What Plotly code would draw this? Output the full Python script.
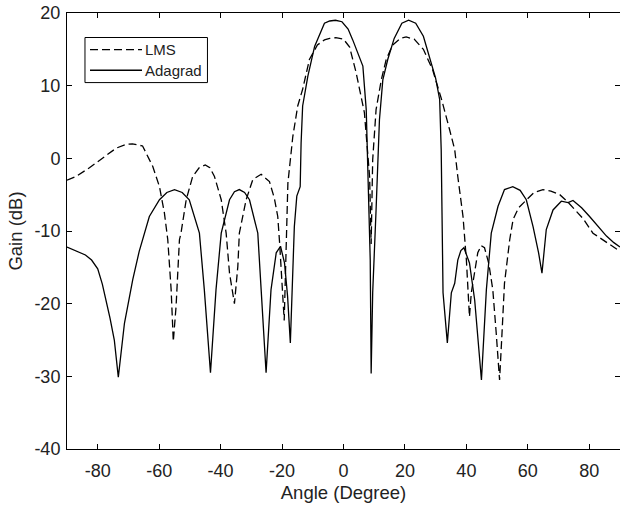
import plotly.graph_objs as go

# --- data (angle in degrees, gain in dB) ---
lms_angle = [-90, -87.1, -82.7, -78.4, -74, -70.5, -68.7, -65.4, -62.1, -59.9, -58.3, -57.2,
             -56.1, -55.4, -54.5, -53.4, -52.9, -51.2, -49.1, -47, -45, -43.5, -42, -39.8,
             -38.2, -37.1, -35.5, -34.4, -33.9, -31.7, -29.5, -26.8, -24.1, -22.5, -21.4,
             -20.8, -20.1, -19.3, -18.1, -16.5, -14.9, -13.3, -11.1, -8.5, -6.2, -4.5,
             -2.5, 0, 2, 4.1, 6.8, 8.5, 9.0, 9.5, 10.6, 12.3, 13.9, 16, 18.5, 20.4, 23,
             26, 29, 32, 34.5, 36.2, 37.2, 38.9, 40, 41, 41.6, 42.5, 43.7, 44.8, 45.9,
             47.3, 48.6, 49.7, 50.8, 51.6, 52.4, 54.1, 55.2, 57, 59.5, 62, 64.9, 67.5,
             70.4, 73, 75.8, 78, 81.2, 83.4, 86.5, 90]
lms_gain = [-3.0, -2.5, -1.3, 0.0, 1.4, 1.95, 2.0, 1.7, -1.1, -3.9, -7.5, -11.2,
            -18.1, -25.2, -20.4, -11.2, -10.3, -5.7, -2.5, -1.3, -0.9, -1.3, -2.5, -5.7,
            -10.3, -15.8, -20.0, -14.9, -10.3, -5.7, -2.9, -2.2, -3.2, -5.5, -8.0,
            -11.6, -17.0, -22.3, -3.4, 3.0, 7.2, 9.5, 13.6, 15.6, 16.3, 16.5,
            16.6, 16.4, 15.3, 11.8, 6.3, -2.5, -11.8, -0.2, 6.7, 10.8, 13.6, 15.6, 16.5, 16.7, 16.4,
            15.0, 12.2, 8.0, 4.0, 1.2, -2.5, -8.0, -14.0, -21.8, -18.5, -16.2, -13.0, -12.0, -12.3,
            -14.5, -18.1, -24.0, -30.5, -24.0, -17.2, -11.2, -8.4, -6.8, -5.7, -4.7, -4.3, -4.5,
            -5.0, -6.0, -7.3, -8.3, -10.3, -10.9, -11.8, -12.8]

ada_angle = [-90, -88, -86, -84, -82, -80, -78.5, -77.3, -76, -74.6, -73.3, -71.3, -68.6, -66.5,
             -63.2, -59.9, -57.5, -55, -52.5, -50.2, -46.9, -45.3, -43.3, -41.5, -39.8, -37.1,
             -35.5, -33.9, -32.2, -30.6, -27.9, -26.8, -25.2, -23.6, -21.9, -20.5, -19.2,
             -18.2, -17.3, -16, -15.2, -14.1, -13.8, -13.3, -11.6, -9.4, -6.2, -4.5, -2.6,
             -0.5, 1.5, 3.0, 6.3, 7.4, 7.9, 8.7, 9.0, 9.5, 10.6, 11.7, 12.8, 14.4, 16.5,
             19, 21.2, 23.5, 26, 28, 30, 31.3, 31.8, 32.4, 33.8, 35.1, 36.2, 37.2, 38.2,
             39.2, 41, 42.7, 44.9, 46.5, 48.1, 50.3, 52.4, 55.1, 57.5, 59.5, 61.7, 63.5,
             64.6, 66, 68.2, 70.9, 73.1, 74.7, 77.5, 80.1, 83, 85.6, 88, 90]
ada_gain = [-12.2, -12.6, -12.9, -13.3, -14.0, -15.2, -17.3, -19.5, -22.0, -25.0, -30.1, -22.7, -16.7, -12.8,
            -8.0, -5.7, -4.7, -4.3, -4.7, -5.7, -10.3, -18.1, -29.5, -18.1, -10.3, -5.7,
            -4.6, -4.3, -4.7, -5.7, -10.3, -18.1, -29.5, -18.1, -13.0, -12.1, -14.4,
            -19.0, -25.4, -9.4, -5.2, -3.9, 2.1, 7.2, 11.3, 15.4, 18.6, 18.9, 19.0,
            18.8, 17.8, 16.3, 12.7, 6.7, -0.2, -14.0, -29.6, -18.5, -7.1, 5.3, 10.8, 13.6, 16.5,
            18.6, 19.0, 18.6, 16.8, 14.0, 11.0, 8.1, 1.2, -18.5, -25.4, -18.5, -17.2, -14.0, -12.7,
            -12.3, -14.4, -19.5, -30.5, -18.1, -10.3, -6.6, -4.3, -3.9, -4.4, -5.7, -9.4, -13.0,
            -15.8, -9.8, -7.1, -5.9, -6.1, -5.8, -6.8, -8.0, -9.4, -10.7, -11.6, -12.2]

x_ticks = [-80, -60, -40, -20, 0, 20, 40, 60, 80]
x_tick_labels = ['-80', '-60', '-40', '-20', '0', '20', '40', '60', '80']
y_ticks = [-40, -30, -20, -10, 0, 10, 20]
y_tick_labels = ['-40', '-30', '-20', '-10', '0', '10', '20']
series_names = ['LMS', 'Adagrad']

font_name = "Liberation Sans, Arial, sans-serif"
dash_style = '8px,4px'

fig = go.Figure()
fig.add_trace(go.Scatter(x=lms_angle, y=lms_gain, mode='lines', name=series_names[0],
                         line=dict(color='black', width=1.3, dash=dash_style)))
fig.add_trace(go.Scatter(x=ada_angle, y=ada_gain, mode='lines', name=series_names[1],
                         line=dict(color='black', width=1.3)))

axis_style = dict(showline=True, linecolor='black', linewidth=1, mirror='ticks',
                  ticks='inside', ticklen=5, tickcolor='black', showgrid=False,
                  zeroline=False, automargin=False,
                  tickfont=dict(family=font_name, size=18, color='#222'))

# legend box drawn in paper coordinates (matlab style: longer line samples)
box = dict(x0=0.0325, x1=0.254, y0=0.8404, y1=0.9438)
legend_rows = [0.9162, 0.8687]
legend_dashes = [dash_style, 'solid']
shapes = [dict(type='rect', xref='paper', yref='paper', fillcolor='white',
               line=dict(color='black', width=1), **box)]
annotations = []
for name, row, dash in zip(series_names, legend_rows, legend_dashes):
    shapes.append(dict(type='line', xref='paper', yref='paper', x0=0.0416, x1=0.1356,
                       y0=row, y1=row, line=dict(color='black', width=1.3, dash=dash)))
    annotations.append(dict(text=name, xref='paper', yref='paper', x=0.137, y=row,
                            xanchor='left', yanchor='middle', showarrow=False,
                            font=dict(family=font_name, size=15, color='#222')))

fig.update_layout(
    width=620, height=507,
    margin=dict(l=67, r=0, t=13, b=58),
    paper_bgcolor='white', plot_bgcolor='white',
    font=dict(family=font_name, color='#222'),
    xaxis=dict(range=[-90, 90], tickvals=x_ticks, ticktext=x_tick_labels,
               ticklabelstandoff=5,
               title=dict(text='Angle (Degree)', font=dict(size=18.5), standoff=6),
               **axis_style),
    yaxis=dict(range=[-40, 20], tickvals=y_ticks, ticktext=y_tick_labels,
               ticklabelstandoff=2,
               title=dict(text='Gain (dB)', font=dict(size=18.5), standoff=6),
               **axis_style),
    shapes=shapes,
    annotations=annotations,
    showlegend=False,
)

# body margin 0 so the 620x507 figure fills the window exactly
fig.write_html("out.html", config={'displayModeBar': False},
               post_script="document.body.style.margin='0';")
